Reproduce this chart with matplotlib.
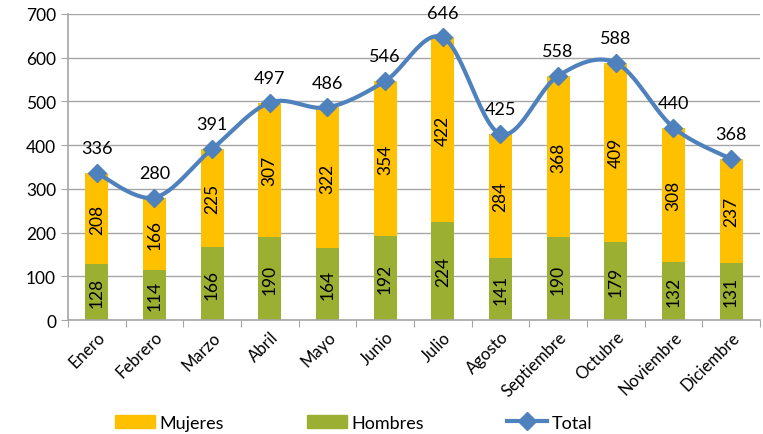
import numpy as np
import matplotlib.pyplot as plt
from matplotlib.lines import Line2D
from matplotlib.patches import Patch

meses = ['Enero', 'Febrero', 'Marzo', 'Abril', 'Mayo', 'Junio', 'Julio',
         'Agosto', 'Septiembre', 'Octubre', 'Noviembre', 'Diciembre']
hombres = [128, 114, 166, 190, 164, 192, 224, 141, 190, 179, 132, 131]
mujeres = [208, 166, 225, 307, 322, 354, 422, 284, 368, 409, 308, 237]
total = [336, 280, 391, 497, 486, 546, 646, 425, 558, 588, 440, 368]

c_muj = '#FFC000'
c_hom = '#9BAF32'
c_tot = '#4F81BD'
grid_c = '#A6A6A6'

plt.rcParams['font.family'] = ['Lato', 'DejaVu Sans']


def smooth(xs, ys, n=30, t=0.5):
    # cardinal spline through the points, like Excel's smoothed line
    xs = np.asarray(xs, float)
    ys = np.asarray(ys, float)
    px = np.concatenate([[xs[0]], xs, [xs[-1]]])
    py = np.concatenate([[ys[0]], ys, [ys[-1]]])
    ox, oy = [], []
    for i in range(1, len(px) - 2):
        p0 = np.array([px[i - 1], py[i - 1]])
        p1 = np.array([px[i], py[i]])
        p2 = np.array([px[i + 1], py[i + 1]])
        p3 = np.array([px[i + 2], py[i + 2]])
        m1 = t * (p2 - p0)
        m2 = t * (p3 - p1)
        s = np.linspace(0, 1, n)
        h1 = 2 * s**3 - 3 * s**2 + 1
        h2 = s**3 - 2 * s**2 + s
        h3 = -2 * s**3 + 3 * s**2
        h4 = s**3 - s**2
        pts = np.outer(h1, p1) + np.outer(h2, m1) + np.outer(h3, p2) + np.outer(h4, m2)
        ox.extend(pts[:, 0])
        oy.extend(pts[:, 1])
    return ox, oy


fig = plt.figure(figsize=(7.63, 4.35), dpi=100)
ax = fig.add_axes([0.089, 0.262, 0.907, 0.704])

x = np.arange(len(meses))
w = 0.4
ax.bar(x, hombres, w, color=c_hom, zorder=2)
ax.bar(x, mujeres, w, bottom=hombres, color=c_muj, zorder=2)

for i in range(len(meses)):
    ax.text(x[i], hombres[i] / 2, str(hombres[i]), rotation=90, ha='center',
            va='center', fontsize=12.5, zorder=3)
    ax.text(x[i], hombres[i] + mujeres[i] / 2, str(mujeres[i]), rotation=90,
            ha='center', va='center', fontsize=12.5, zorder=3)

sx, sy = smooth(x, total)
ax.plot(sx, sy, color=c_tot, lw=3, zorder=4)
ax.plot(x, total, 'D', color=c_tot, ms=9.5, zorder=5)
for i in range(len(meses)):
    ax.annotate(str(total[i]), (x[i], total[i]), xytext=(0, 12),
                textcoords='offset points', ha='center', va='bottom',
                fontsize=13, zorder=6)

ax.set_xlim(-0.5, len(meses) - 0.5)
ax.set_ylim(0, 700)
ax.set_yticks(range(0, 701, 100))
ax.yaxis.grid(True, color=grid_c, lw=1, zorder=0)
ax.set_axisbelow(True)
ax.set_xticks(np.arange(-0.5, len(meses), 1), minor=False)
ax.set_xticklabels([])
ax.set_xticks(x, minor=True)
ax.set_xticklabels(meses, minor=True, rotation=45, ha='right',
                   rotation_mode='anchor', fontsize=12)
ax.tick_params(axis='x', which='minor', length=0, pad=6)
ax.tick_params(axis='x', which='major', length=5, color=grid_c)
ax.tick_params(axis='y', length=5, color=grid_c, labelsize=12.5)
for s in ['top', 'right']:
    ax.spines[s].set_visible(False)
for s in ['left', 'bottom']:
    ax.spines[s].set_color(grid_c)
    ax.spines[s].set_linewidth(1.2)

handles = [Patch(color=c_muj), Patch(color=c_hom),
           Line2D([0], [0], color=c_tot, lw=3, marker='D', ms=9.5)]
fig.legend(handles, ['Mujeres', 'Hombres', 'Total'], loc='lower left',
           bbox_to_anchor=(0.13, -0.03), ncol=3, frameon=False,
           fontsize=13, columnspacing=4.6, handlelength=2.2,
           handletextpad=0.25)

fig.savefig('out.png', dpi=100)
